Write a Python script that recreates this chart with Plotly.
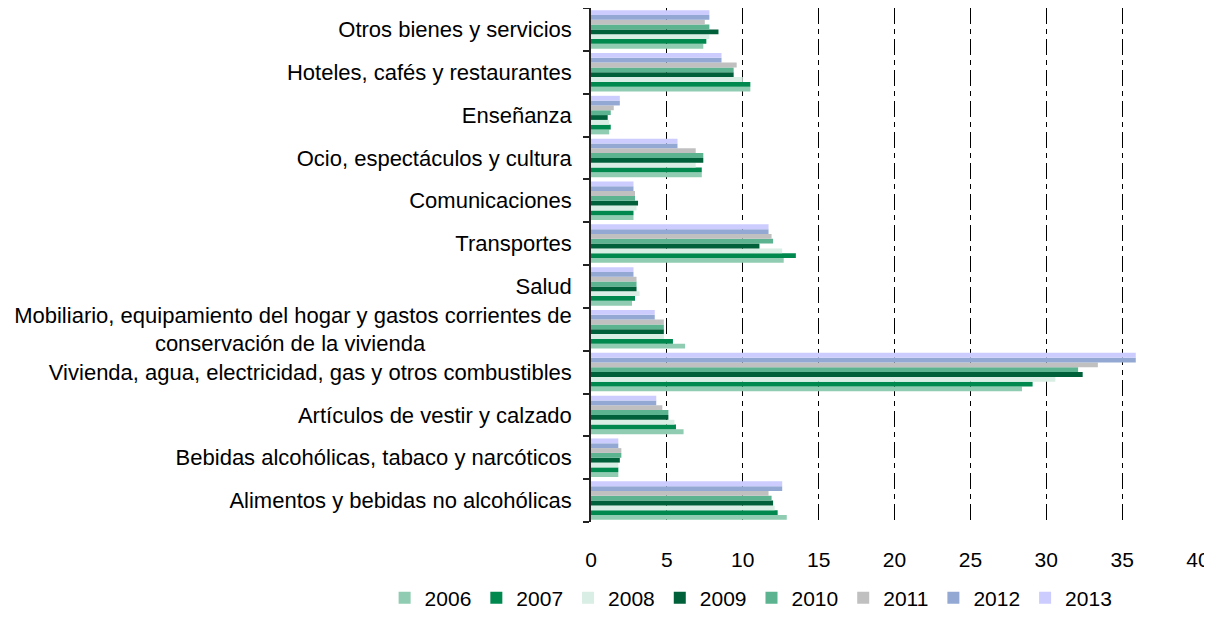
import plotly.graph_objects as go

categories = [
    "Alimentos y bebidas no alcohólicas",
    "Bebidas alcohólicas, tabaco y narcóticos",
    "Artículos de vestir y calzado",
    "Vivienda, agua, electricidad, gas y otros combustibles",
    "Mobiliario, equipamiento del hogar y gastos corrientes de<br>conservación de la vivienda" + "\u00a0" * 24,
    "Salud",
    "Transportes",
    "Comunicaciones",
    "Ocio, espectáculos y cultura",
    "Enseñanza",
    "Hoteles, cafés y restaurantes",
    "Otros bienes y servicios",
]

years = ["2006", "2007", "2008", "2009", "2010", "2011", "2012", "2013"]

v2006 = [12.9, 1.8, 6.1, 28.4, 6.2, 2.7, 12.7, 2.8, 7.3, 1.2, 10.5, 7.4]
v2007 = [12.3, 1.8, 5.6, 29.1, 5.4, 2.9, 13.5, 2.8, 7.3, 1.3, 10.5, 7.6]
v2008 = [12.1, 1.8, 5.5, 30.6, 4.8, 3.2, 12.6, 3.0, 6.9, 1.2, 10.0, 7.8]
v2009 = [12.0, 1.9, 5.1, 32.4, 4.8, 3.0, 11.1, 3.1, 7.4, 1.1, 9.4, 8.4]
v2010 = [11.9, 2.0, 5.1, 32.1, 4.8, 3.0, 12.0, 2.9, 7.4, 1.3, 9.4, 7.8]
v2011 = [11.7, 2.0, 4.7, 33.4, 4.8, 3.0, 11.9, 2.9, 6.9, 1.5, 9.6, 7.5]
v2012 = [12.6, 1.8, 4.3, 35.9, 4.2, 2.8, 11.7, 2.8, 5.7, 1.9, 8.6, 7.8]
v2013 = [12.6, 1.8, 4.3, 35.9, 4.2, 2.8, 11.7, 2.8, 5.7, 1.9, 8.6, 7.8]

series = [v2006, v2007, v2008, v2009, v2010, v2011, v2012, v2013]
colors = ["#8FCCB1", "#00894F", "#D9EEE4", "#00603A", "#5BB38F", "#C0C0C0", "#93A9D3", "#CCCCFF"]

x_ticks = [0, 5, 10, 15, 20, 25, 30, 35, 40]

fig = go.Figure()
for yr, vals, col in zip(years, series, colors):
    fig.add_trace(go.Bar(
        name=yr, y=categories, x=vals, orientation="h",
        marker=dict(color=col, line=dict(width=0)),
    ))

fig.update_layout(
    width=1196, height=601,
    margin=dict(l=583, r=6, t=0, b=87, autoexpand=False),
    paper_bgcolor="white", plot_bgcolor="white",
    barmode="group", bargap=0.1, bargroupgap=0,
    font=dict(family="Liberation Sans, Arial, sans-serif", size=21, color="black"),
    legend=dict(
        orientation="h", x=-0.340, xanchor="left", y=-0.108, yanchor="top",
        font=dict(size=21), traceorder="normal", itemwidth=30,
        bgcolor="rgba(0,0,0,0)",
    ),
    showlegend=True,
)

fig.update_xaxes(
    range=[0, 40], tickvals=x_ticks, ticktext=[str(t) for t in x_ticks],
    showgrid=True, gridcolor="black", gridwidth=1.2, griddash="16px,5px,5px,5px",
    zeroline=False, showline=False, ticks="", ticklabelstandoff=23,
    tickfont=dict(size=21), automargin=False, ticklabeloverflow="allow",
)
fig.update_yaxes(
    type="category", categoryorder="array", categoryarray=categories,
    showline=True, linecolor="#222222", linewidth=1.5,
    ticks="outside", tickson="boundaries", ticklen=6, tickcolor="#222222", tickwidth=1.5,
    showgrid=False, zeroline=False, ticklabelstandoff=13,
    tickfont=dict(size=22), automargin=False,
)

fig.write_html("out.html")
